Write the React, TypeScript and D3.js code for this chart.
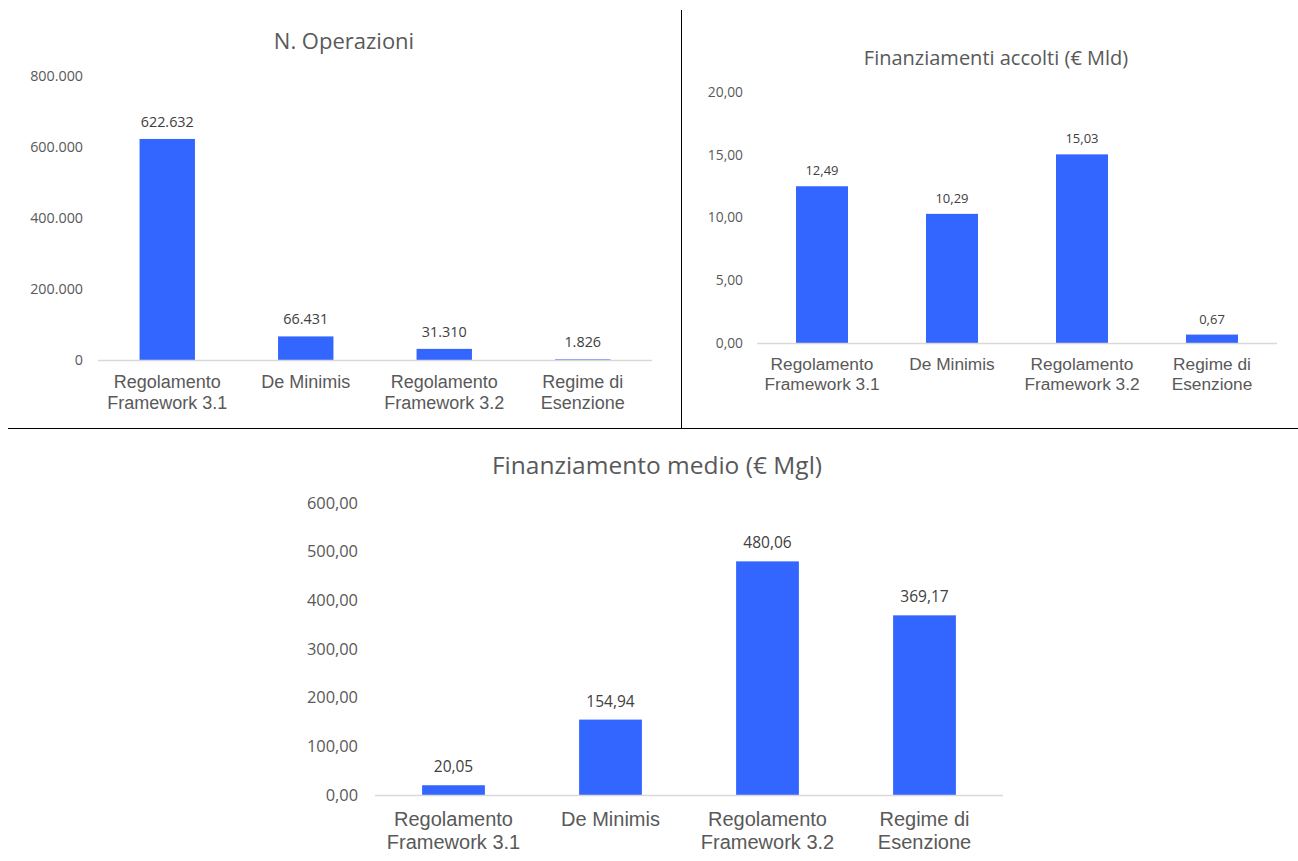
import React from "react";
import * as d3 from "d3";

const categories = [
  ["Regolamento", "Framework 3.1"],
  ["De Minimis"],
  ["Regolamento", "Framework 3.2"],
  ["Regime di", "Esenzione"],
];
const catKeys = ["RF31", "DM", "RF32", "RE"];

const operazioni = [622632, 66431, 31310, 1826];
const operazioniTicks = [0, 200000, 400000, 600000, 800000];

const finanziamenti = [12.49, 10.29, 15.03, 0.67];
const finanziamentiTicks = [0, 5, 10, 15, 20];

const medio = [20.05, 154.94, 480.06, 369.17];
const medioTicks = [0, 100, 200, 300, 400, 500, 600];

const itInt = (v: number) => d3.format(",.0f")(v).replace(/,/g, ".");
const itDec = (v: number) => d3.format(".2f")(v).replace(".", ",");

const BAR = "#3366FF";
const GRAY = "#595959";
const LABEL = "#404040";

type ChartProps = {
  title: string;
  values: number[];
  ticks: number[];
  fmt: (v: number) => string;
  x0: number;
  x1: number;
  yBase: number;
  yTop: number;
  titleX: number;
  titleY: number;
  titleSize: number;
  tickSize: number;
  tickRight: number;
  labelSize: number;
  labelGap: number;
  catSize: number;
  catY: number;
  catLine: number;
};

function BarChart(p: ChartProps) {
  const x = d3.scaleBand().domain(catKeys).range([p.x0, p.x1]).paddingInner(0.6).paddingOuter(0.3);
  const y = d3.scaleLinear().domain([0, p.ticks[p.ticks.length - 1]]).range([p.yBase, p.yTop]);
  return (
    <g>
      <text x={p.titleX} y={p.titleY} textAnchor="middle" fontFamily="'Open Sans', sans-serif" fontSize={p.titleSize} fill={GRAY}>
        {p.title}
      </text>
      {p.ticks.map((t) => (
        <text key={t} x={p.tickRight} y={y(t)} dy="0.35em" textAnchor="end" fontFamily="'Open Sans', sans-serif" fontSize={p.tickSize} fill={GRAY}>
          {p.fmt(t)}
        </text>
      ))}
      {p.values.map((v, i) => (
        <rect key={catKeys[i]} x={x(catKeys[i])} y={y(v)} width={x.bandwidth()} height={p.yBase - y(v)} fill={BAR} />
      ))}
      <line x1={p.x0} x2={p.x1} y1={p.yBase + 0.5} y2={p.yBase + 0.5} stroke="#D9D9D9" strokeWidth={1.5} />
      {p.values.map((v, i) => (
        <text key={"l" + i} x={(x(catKeys[i]) as number) + x.bandwidth() / 2} y={y(v) - p.labelGap} textAnchor="middle" fontFamily="'Open Sans', sans-serif" fontSize={p.labelSize} fill={LABEL}>
          {p.fmt(v)}
        </text>
      ))}
      {categories.map((lines, i) => (
        <text key={"c" + i} textAnchor="middle" fontFamily="'Liberation Sans', Arial, sans-serif" fontSize={p.catSize} fill={GRAY}>
          {lines.map((ln, j) => (
            <tspan key={j} x={(x(catKeys[i]) as number) + x.bandwidth() / 2} y={p.catY + j * p.catLine}>
              {ln}
            </tspan>
          ))}
        </text>
      ))}
    </g>
  );
}

export default function App() {
  return (
    <div style={{ position: "absolute", left: 0, top: 0 }}>
      <svg width={1298} height={861} style={{ display: "block", background: "#fff" }}>
        <BarChart
          title="N. Operazioni"
          values={operazioni}
          ticks={operazioniTicks}
          fmt={itInt}
          x0={98}
          x1={652}
          yBase={360}
          yTop={76}
          titleX={344}
          titleY={49}
          titleSize={22}
          tickSize={14.3}
          tickRight={83}
          labelSize={14.4}
          labelGap={12}
          catSize={18}
          catY={388}
          catLine={21}
        />
        <BarChart
          title="Finanziamenti accolti (€ Mld)"
          values={finanziamenti}
          ticks={finanziamentiTicks}
          fmt={itDec}
          x0={757}
          x1={1277}
          yBase={343}
          yTop={92}
          titleX={996}
          titleY={65}
          titleSize={20}
          tickSize={13.8}
          tickRight={743}
          labelSize={13}
          labelGap={11}
          catSize={17.3}
          catY={370}
          catLine={20}
        />
        <BarChart
          title="Finanziamento medio (€ Mgl)"
          values={medio}
          ticks={medioTicks}
          fmt={itDec}
          x0={375}
          x1={1003}
          yBase={795}
          yTop={503}
          titleX={657}
          titleY={474}
          titleSize={24.5}
          tickSize={16.4}
          tickRight={358}
          labelSize={15.5}
          labelGap={13}
          catSize={20}
          catY={826}
          catLine={23}
        />
        <line x1={681.5} x2={681.5} y1={10} y2={428} stroke="#000" strokeWidth={1} />
        <line x1={8} x2={1298} y1={428.5} y2={428.5} stroke="#000" strokeWidth={1} />
      </svg>
    </div>
  );
}
